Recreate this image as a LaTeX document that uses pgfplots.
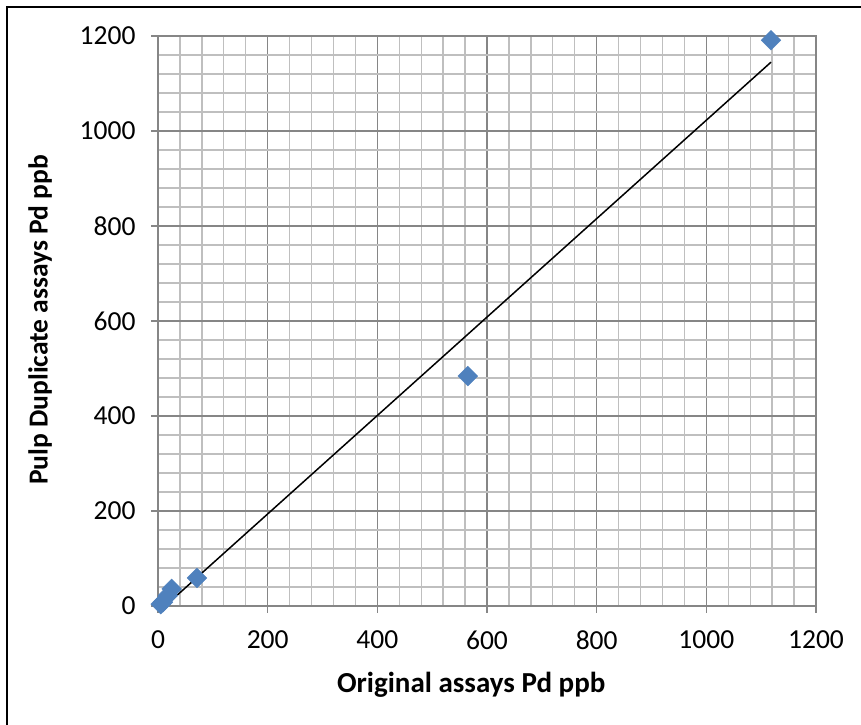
\documentclass[border=0pt]{standalone}
\usepackage{pgfplots}
\pgfplotsset{compat=1.18}
\usepackage{fontspec}
\setmainfont{Carlito}

\definecolor{ptblue}{HTML}{4F81BD}
\definecolor{majgrid}{HTML}{868686}
\definecolor{mingrid}{HTML}{BFBFBF}

\begin{document}
\begin{tikzpicture}
  \useasboundingbox (0bp,0bp) rectangle (861bp,725bp);
  % outer chart frame (cut at right and bottom)
  \draw[line width=2bp] (7bp,0bp) -- (7bp,718bp) -- (861bp,718bp);
  \begin{axis}[
    at={(158bp,119bp)}, anchor=south west,
    width=658bp, height=570bp, scale only axis,
    xmin=0, xmax=1200, ymin=0, ymax=1200,
    xtick={0,200,...,1200}, ytick={0,200,...,1200},
    minor x tick num=4, minor y tick num=4,
    grid=both,
    major grid style={majgrid, line width=1.3bp},
    minor grid style={mingrid, line width=1.3bp},
    axis line style={majgrid, line width=1.3bp},
    tick style={majgrid, line width=1.3bp},
    major tick length=7bp, minor tick length=0pt,
    tick align=outside,
    xtick pos=bottom, ytick pos=left,
    /pgf/number format/1000 sep={},
    /pgf/number format/assume math mode=true,
    tick label style={font=\fontsize{27.5bp}{31bp}\selectfont},
    xticklabel style={yshift=-14bp},
    yticklabel style={xshift=-12bp},
    xlabel={\bfseries Original assays Pd ppb},
    ylabel={\bfseries Pulp Duplicate assays Pd ppb},
    xlabel style={font=\fontsize{29bp}{33bp}\selectfont,
      at={(axis description cs:0.476,-0.139)}, anchor=center},
    ylabel style={font=\fontsize{27.5bp}{32bp}\selectfont,
      at={(axis description cs:-0.179,0.502)}, anchor=center, rotate=0},
    clip=false,
  ]
    \addplot[black, line width=1.5bp] coordinates {(13,0) (1118,1145)};
    \addplot[only marks, mark=square*, mark size=7bp,
      mark options={rotate=45, fill=ptblue, draw=ptblue}] coordinates {
      (5,4) (9,8) (18,22) (25,36) (71,59) (565,484) (1118,1191)
    };
  \end{axis}
\end{tikzpicture}
\end{document}
